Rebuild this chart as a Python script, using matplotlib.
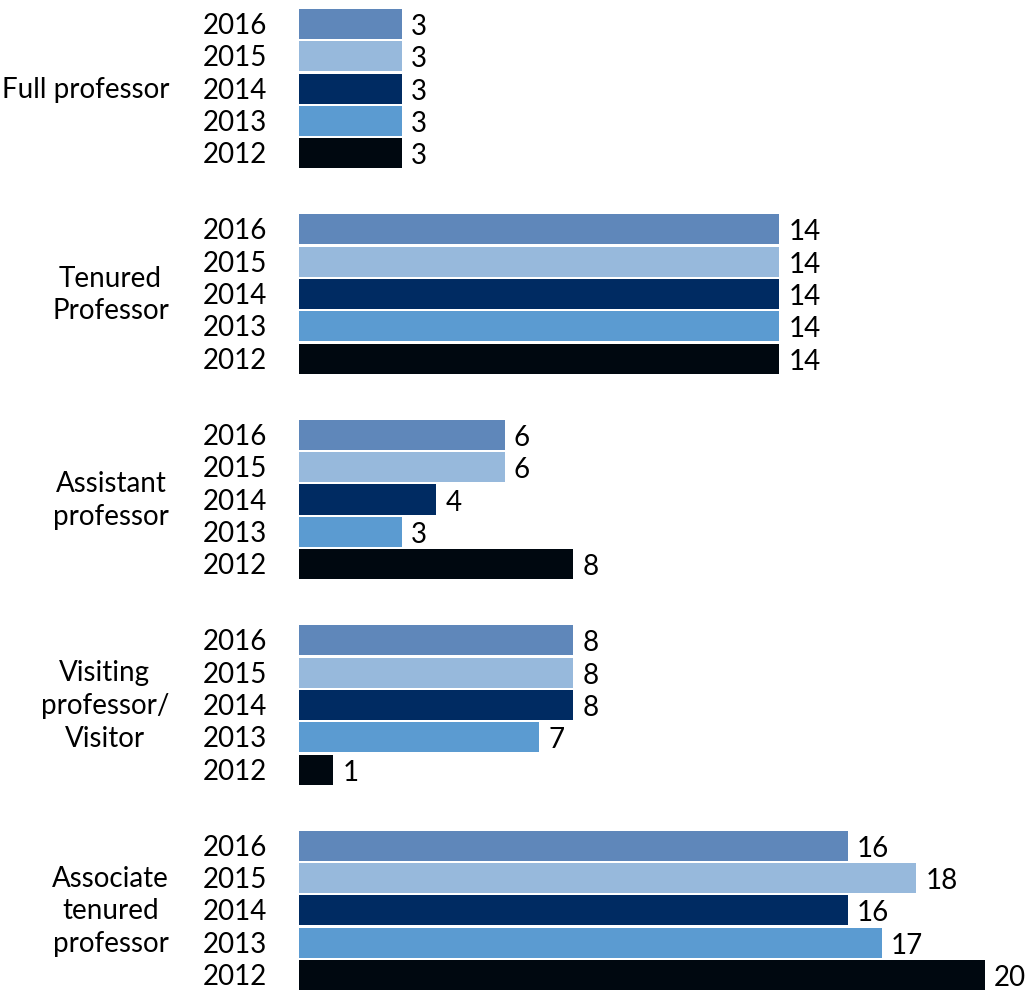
import matplotlib
matplotlib.use("Agg")
import matplotlib.pyplot as plt

categories = ["Full professor", "Tenured\nProfessor", "Assistant\nprofessor",
              "Visiting\nprofessor/\nVisitor", "Associate\ntenured\nprofessor"]
years = ["2016", "2015", "2014", "2013", "2012"]
colors = ["#5F87BA", "#97B9DC", "#002B62", "#5B9BD1", "#000810"]

# values[category][year] in the order of `years`
values = [
    [3, 3, 3, 3, 3],
    [14, 14, 14, 14, 14],
    [6, 6, 4, 3, 8],
    [8, 8, 8, 7, 1],
    [16, 18, 16, 17, 20],
]

plt.rcParams["font.family"] = ["Lato", "DejaVu Sans"]

W, H = 1027, 996
fig = plt.figure(figsize=(W / 100, H / 100), dpi=100)

group_step = 6.37
bar_h = 0.93
ymin = -0.465
ymax = 4 * group_step + 4 + 0.465
px_top, px_bot = 9, 990
left_px = 299
ax = fig.add_axes([left_px / W, 1 - px_bot / H, (W - left_px) / W, (px_bot - px_top) / H])
ax.set_ylim(ymax, ymin)
ax.set_xlim(0, (W - left_px) / 34.3)
ax.axis("off")

fs = 20
for g, cat in enumerate(categories):
    for i, yr in enumerate(years):
        y = g * group_step + i
        v = values[g][i]
        ax.barh(y, v, height=bar_h, color=colors[i], left=0)
        ax.annotate(str(v), xy=(v, y), xycoords="data", xytext=(9, -3), textcoords="offset pixels",
                    ha="left", va="center", fontsize=fs, color="black")
        ax.annotate(yr, xy=(0, y), xycoords="data", xytext=(-32, -2), textcoords="offset pixels",
                    ha="right", va="center", fontsize=fs, color="black")
    ax.annotate(cat, xy=(0, g * group_step + 2), xycoords="data", xytext=(-130, -1),
                textcoords="offset pixels", ha="right", va="center", multialignment="center",
                fontsize=fs, color="black", linespacing=1.32)

fig.savefig("out.png", dpi=100, facecolor="white")
